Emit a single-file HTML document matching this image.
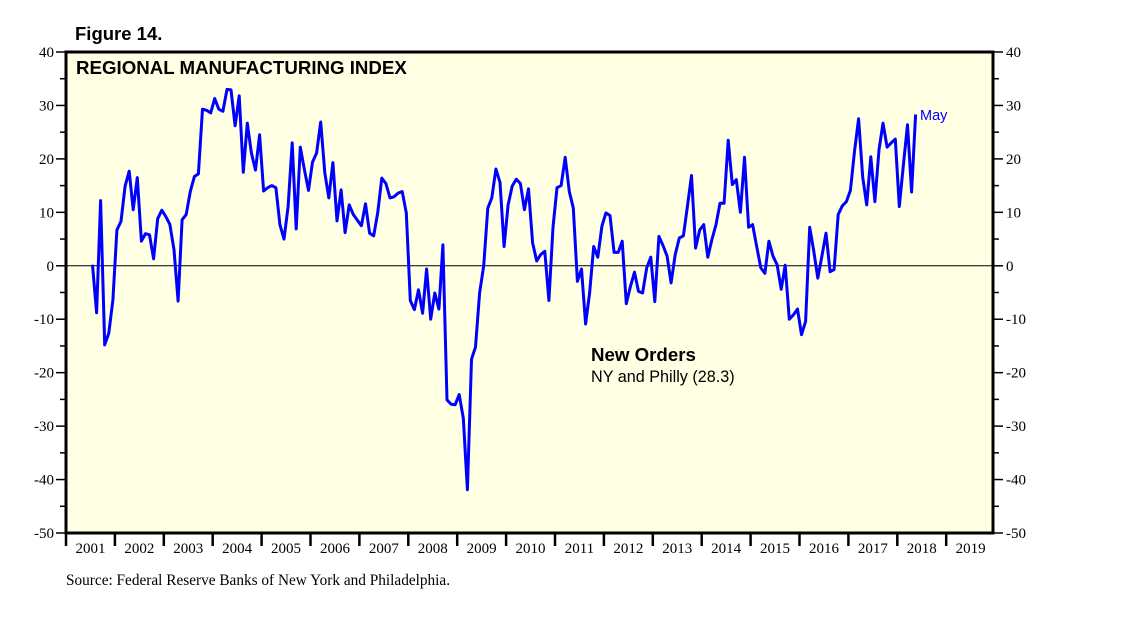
<!DOCTYPE html>
<html><head><meta charset="utf-8"><style>
body{margin:0;background:#fff;}
svg{display:block;font-family:"Liberation Serif",serif;}
</style></head><body>
<svg id="chart" width="1138" height="621" viewBox="0 0 1138 621">
<text x="75" y="40" font-family="Liberation Sans, sans-serif" font-weight="bold" font-size="18.5">Figure 14.</text>
<rect x="66" y="52" width="927" height="481" fill="#ffffe3"/>
<g id="grid"></g>
<g id="series"></g>
<rect x="66" y="52" width="927" height="481" fill="none" stroke="#000" stroke-width="3"/>
<text x="76" y="74" font-family="Liberation Sans, sans-serif" font-weight="bold" font-size="18.7">REGIONAL MANUFACTURING INDEX</text>
<text x="591" y="361" font-family="Liberation Sans, sans-serif" font-weight="bold" font-size="18.7">New Orders</text>
<text x="591" y="382" font-family="Liberation Sans, sans-serif" font-size="16.2">NY and Philly (28.3)</text>
<text x="920" y="120" font-family="Liberation Sans, sans-serif" font-size="14.5" fill="#0000ff">May</text>
<text x="66" y="585" font-size="15.3">Source: Federal Reserve Banks of New York and Philadelphia.</text>
</svg>
<script>
const yTicks = [40,30,20,10,0,-10,-20,-30,-40,-50];
const years = [2001,2002,2003,2004,2005,2006,2007,2008,2009,2010,2011,2012,2013,2014,2015,2016,2017,2018,2019];
const startYear = 2001, startMonth = 6; // July 2001
const newOrders = [0.2,-8.8,12.2,-14.8,-12.6,-6.4,6.7,8.3,14.9,17.7,10.5,16.5,4.6,6,5.8,1.3,8.8,10.4,9.2,7.7,3,-6.6,8.6,9.6,13.9,16.7,17.2,29.3,29.1,28.6,31.3,29.3,28.9,33,32.9,26.2,31.8,17.5,26.7,21.1,17.9,24.5,14,14.6,15,14.6,7.7,5,
11.1,23,6.9,22.2,18,14.1,19.4,21.1,26.9,17.4,12.7,19.3,8.4,14.2,6.2,11.4,9.6,8.5,7.5,11.6,6.1,5.6,9.9,16.4,15.4,12.7,12.9,13.6,13.9,9.9,-6.5,-8.2,-4.5,-8.9,-0.6,-10,-5.1,-8.1,3.9,-25.1,-25.9,-26,-24.1,-28.5,-41.9,-17.5,-15.2,
-5.1,0,
10.8,12.7,18.1,15.6,3.6,11.4,14.9,16.2,15.4,10.5,14.4,4.3,0.9,2.1,2.7,-6.5,7.2,14.6,15,20.3,13.9,10.8,-2.9,-0.6,-10.9,-5.1,3.6,1.6,7.4,9.9,9.4,2.5,2.5,4.6,-7.1,-3.9,-1.2,-4.8,-5.1,-0.4,1.6,-6.7,5.5,3.8,1.8,-3.2,
2.1,5.2,5.6,11.1,16.9,3.3,6.7,7.7,1.6,4.9,7.7,11.7,11.7,23.5,15.2,16.1,10,20.3,7.2,7.7,3.6,-0.4,-1.4,4.6,1.8,0.2,-4.4,0.1,-10,-9.2,-8.1,-12.9,-10.4,7.2,2.7,-2.3,1.8,6.1,-1.1,-0.7,9.6,11.2,12,14.1,21.4,27.5,16.6,11.4,20.4,12,21.7,26.7,22.2,23,23.7,11.1,18.9,26.4,13.8,28.3];

const NS="http://www.w3.org/2000/svg";
const X0=66, YW=48.9, Y_TOP=52, Y_BOT=533;
const xYear = t => X0 + (t - 2001) * YW;
const yVal = v => Y_TOP + (40 - v) / 90 * (Y_BOT - Y_TOP);
function mk(tag, attrs, parent){const e=document.createElementNS(NS,tag);for(const k in attrs)e.setAttribute(k,attrs[k]);parent.appendChild(e);return e;}
const svg=document.getElementById('chart');
const grid=document.getElementById('grid');
const zl=mk('line',{x1:X0,x2:993,y1:yVal(0),y2:yVal(0),stroke:'#000','stroke-width':1},grid);


yTicks.forEach(v=>{
  const y=yVal(v);
  [[X0-1,X0-10,'left'],[994,1003,'right']].forEach(([a,b,side])=>{
    const t=mk('line',{x1:a,x2:b,y1:y,y2:y,stroke:'#000','stroke-width':1.5},svg);
    
    
  });
  const l=mk('text',{x:X0-12,y:y+5,'text-anchor':'end','font-size':15},svg);
  l.textContent=v;
  
  
  const r=mk('text',{x:1006,y:y+5,'text-anchor':'start','font-size':15},svg);
  r.textContent=v;
  
  
  if(v>-50){
    const ym=yVal(v-5);
    [[X0-1,X0-6],[994,999]].forEach(([a,b])=>{
      const m=mk('line',{x1:a,x2:b,y1:ym,y2:ym,stroke:'#000','stroke-width':1.5},svg);
      
      
    });
  }
});
years.forEach(yr=>{
  const x=xYear(yr);
  const t=mk('line',{x1:x,x2:x,y1:534,y2:546,stroke:'#000','stroke-width':2.5},svg);
  
  
  const l=mk('text',{x:xYear(yr+0.5),y:553,'text-anchor':'middle','font-size':15},svg);
  l.textContent=yr;
  
  
});
const pts=newOrders.map((v,i)=>{const m=startMonth+i;const t=startYear+(m+0.5)/12;return xYear(t).toFixed(1)+','+yVal(v).toFixed(1);});
const line=mk('polyline',{points:pts.join(' '),fill:'none',stroke:'#0000ff','stroke-width':3,'stroke-linejoin':'round'},document.getElementById('series'));


</script>
</body></html>
